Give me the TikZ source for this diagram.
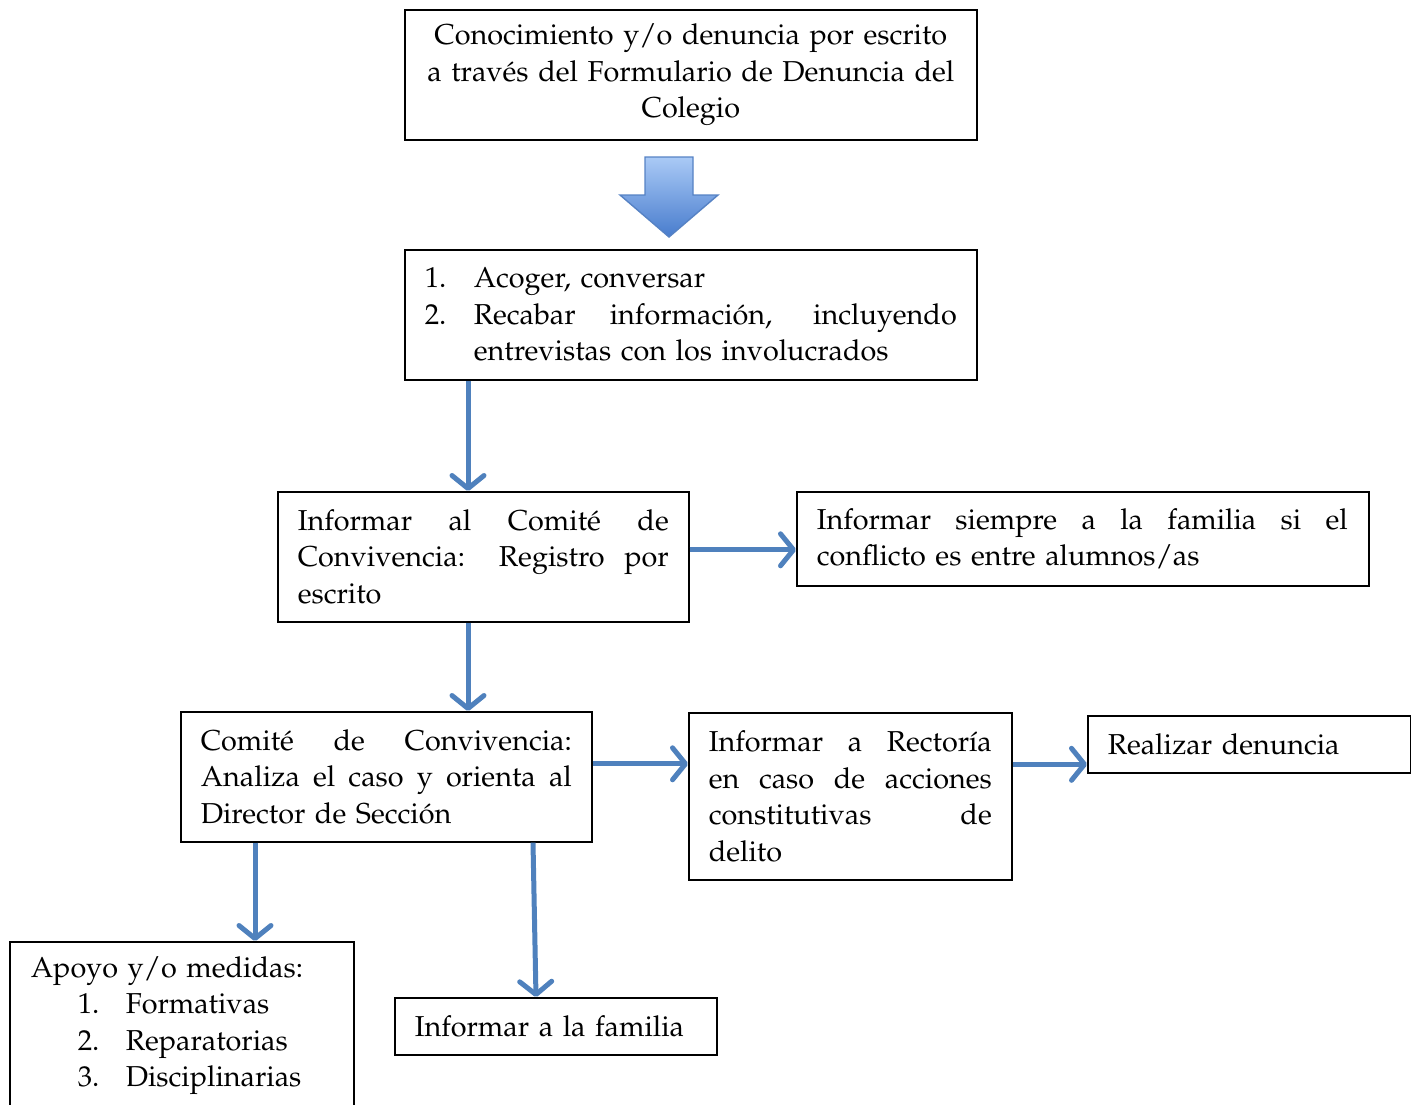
\documentclass[tikz,border=0pt]{standalone}
\usepackage[T1]{fontenc}
\usepackage{mathpazo}
\usetikzlibrary{arrows.meta}
\definecolor{arrblue}{RGB}{79,129,189}
\definecolor{bigtop}{RGB}{170,202,246}
\definecolor{bigbot}{RGB}{72,124,205}
\definecolor{bigedge}{RGB}{86,130,196}
% justified line of given width (stretchable interword spaces)
\newcommand{\jline}[2]{\makebox[#1pt][s]{\spaceskip=0pt\xspaceskip=0pt #2}}
\newcommand{\numitem}[3]{\makebox[#1pt][l]{#2}#3}
\begin{document}
\begin{tikzpicture}[x=1pt,y=-1pt,
  box/.style={draw=black, line width=1.6pt, anchor=north west, inner xsep=20pt,
    inner ysep=0pt, align=left, font=\fontsize{28.8}{36.5}\selectfont},
  arr/.style={draw=arrblue, line width=5pt,
    -{Straight Barb[length=13pt,width=32pt,line cap=round,line join=round]}},
  bigarrow/.style={draw=bigedge, line width=1.4pt, top color=bigtop, bottom color=bigbot}]
\useasboundingbox (0,0) rectangle (1411,1104);

\node[box, minimum width=572pt, minimum height=130pt, text width=532pt, align=center]
  (b1) at (404,9) {Conocimiento y/o denuncia por escrito\\ a trav\'es del Formulario de Denuncia del\\ Colegio};

% block arrow
\draw[bigarrow] (645,157) -- (693,157) -- (693,195) -- (718,195) -- (669,237)
  -- (620,195) -- (645,195) -- cycle;

\node[box, minimum width=572pt, minimum height=130pt, text width=532pt]
  (b2) at (404,249) {\numitem{49}{1.}{Acoger, conversar}\\
  \numitem{49}{2.}{\jline{483}{Recabar informaci\'on, incluyendo}}\\
  \hspace*{49pt}entrevistas con los involucrados};

\node[box, minimum width=411pt, minimum height=130pt, text width=371pt]
  (b3) at (277,491) {\jline{371}{Informar al Comit\'e de}\\
  \jline{371}{Convivencia: Registro por}\\ escrito};

\node[box, minimum width=572pt, minimum height=94pt, text width=532pt]
  (b4) at (796,491) {\jline{531}{Informar siempre a la familia si el}\\
  conflicto es entre alumnos/as};

\node[box, minimum width=411pt, minimum height=130pt, text width=371pt]
  (b5) at (180,711) {\jline{371}{Comit\'e de Convivencia:}\\
  \jline{371}{Analiza el caso y orienta al}\\ Director de Secci\'on};

\node[box, minimum width=323pt, minimum height=167pt, text width=283pt]
  (b6) at (688,712) {\jline{283}{Informar a Rector\'{\i}a}\\
  \jline{283}{en caso de acciones}\\ \jline{283}{constitutivas de}\\ delito};

\node[box, minimum width=323pt, minimum height=57pt, text width=283pt]
  (b7) at (1087,715) {Realizar denuncia};

\node[box, minimum width=342pt, minimum height=168pt, text width=302pt, inner xsep=21pt]
  (b8) at (9,941) {Apoyo y/o medidas:\\
  \hspace*{47pt}\numitem{48}{1.}{Formativas}\\
  \hspace*{47pt}\numitem{48}{2.}{Reparatorias}\\
  \hspace*{47pt}\numitem{48}{3.}{Disciplinarias}};

\node[box, minimum width=322pt, minimum height=57pt, text width=282pt]
  (b9) at (394,997) {Informar a la familia};

% connectors
\draw[arr] ([xshift=64pt]b2.south west) -- ([xshift=191pt]b3.north west);
\draw[arr] ([yshift=7pt]b3.east) -- ([yshift=7pt]b3.east -| b4.west);
\draw[arr] ([xshift=191pt]b3.south west) -- ([xshift=288pt]b5.north west);
\draw[arr] ([yshift=13pt]b5.east) -- ([yshift=13pt]b5.east -| b6.west);
\draw[arr] ([yshift=32pt]b6.east) -- ([yshift=32pt]b6.east -| b7.west);
\draw[arr] ([xshift=75pt]b5.south west) -- ([xshift=246pt]b8.north west);
\draw[arr] ([xshift=353pt]b5.south west) -- ([xshift=142pt]b9.north west);
\end{tikzpicture}
\end{document}
